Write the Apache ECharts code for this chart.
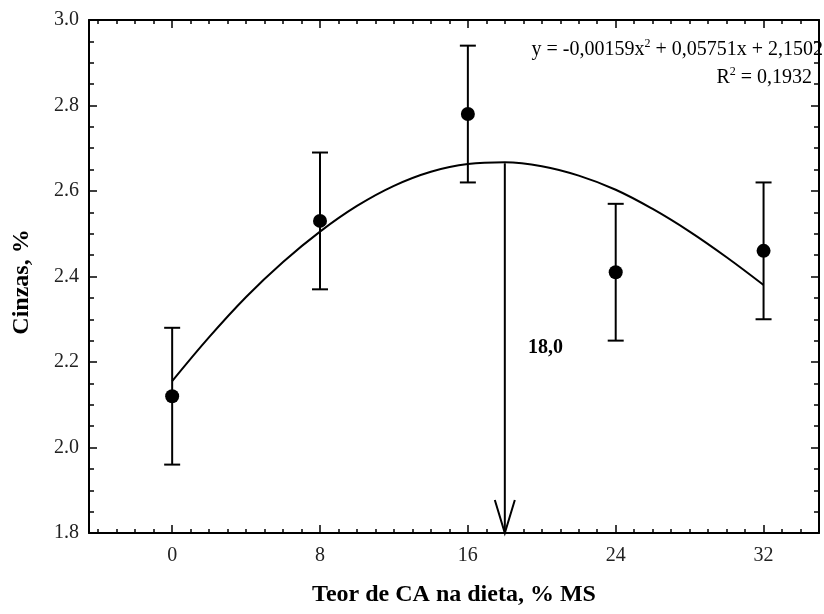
<!DOCTYPE html>
<html>
<head>
<meta charset="utf-8">
<script src="https://cdn.jsdelivr.net/npm/echarts@6/dist/echarts.min.js"></script>
<style>
  html, body { margin: 0; padding: 0; background: #fff; }
  #chart { width: 824px; height: 614px; }
</style>
</head>
<body>
<div id="chart"></div>
<script>
// data
const doses = [0, 8, 16, 24, 32]
const means = [2.12, 2.53, 2.78, 2.41, 2.46]
const errLow = [1.96, 2.37, 2.62, 2.25, 2.30]
const errHigh = [2.28, 2.69, 2.94, 2.57, 2.62]

// fitted curve
const curveX = [0, 2, 4, 6, 8, 10, 12, 14, 16, 18, 20, 22, 24, 26, 28, 30, 32]
const curveY = [2.155, 2.258, 2.352, 2.434, 2.505, 2.565, 2.612, 2.645, 2.663, 2.667, 2.658, 2.636, 2.603, 2.558, 2.505, 2.445, 2.38]

// optimum marker
const optimumX = 18
const optimumTop = 2.665
const optimumLabel = '18,0'
const optimumLabelPos = [20.2, 2.234]

const xMajorTicks = [0, 8, 16, 24, 32]
const xMinorTicks = [-4, -3, -2, -1, 0, 1, 2, 3, 4, 5, 6, 7, 8, 9, 10, 11, 12, 13, 14, 15, 16, 17,
  18, 19, 20, 21, 22, 23, 24, 25, 26, 27, 28, 29, 30, 31, 32, 33, 34]

const serif = '"Liberation Serif", "Times New Roman", serif'
const black = '#000'

const chart = echarts.init(document.getElementById('chart'))

const xBase = {
  type: 'value',
  min: -4.5,
  max: 35,
  splitLine: { show: false },
  axisLine: { show: true, onZero: false, lineStyle: { color: black, width: 2 } }
}
const yBase = {
  type: 'value',
  min: 1.8,
  max: 3.0,
  interval: 0.2,
  splitLine: { show: false },
  axisLine: { show: true, onZero: false, lineStyle: { color: black, width: 2 } },
  axisTick: { show: true, inside: true, length: 8, lineStyle: { color: black, width: 1.5 } },
  minorTick: { show: true, splitNumber: 4, length: 5, lineStyle: { color: black, width: 1.5 } }
}

chart.setOption({
  animation: false,
  grid: { left: 89, right: 5, top: 20, bottom: 81 },
  xAxis: [
    Object.assign({}, xBase, {
      position: 'bottom',
      axisTick: { show: true, inside: true, length: 8, customValues: xMajorTicks, lineStyle: { color: black, width: 1.5 } },
      axisLabel: { customValues: xMajorTicks, fontFamily: serif, fontSize: 20, color: '#222', margin: 13 },
      name: 'Teor de CA na dieta, % MS',
      nameLocation: 'middle',
      nameGap: 50,
      nameTextStyle: { fontFamily: serif, fontSize: 24, fontWeight: 'bold', color: black }
    }),
    Object.assign({}, xBase, {
      position: 'bottom',
      axisLine: { show: false },
      axisTick: { show: true, inside: true, length: 4, customValues: xMinorTicks, lineStyle: { color: black, width: 1.5 } },
      axisLabel: { show: false }
    }),
    Object.assign({}, xBase, {
      position: 'top',
      axisTick: { show: true, inside: true, length: 8, customValues: xMajorTicks, lineStyle: { color: black, width: 1.5 } },
      axisLabel: { show: false }
    }),
    Object.assign({}, xBase, {
      position: 'top',
      axisLine: { show: false },
      axisTick: { show: true, inside: true, length: 4, customValues: xMinorTicks, lineStyle: { color: black, width: 1.5 } },
      axisLabel: { show: false }
    })
  ],
  yAxis: [
    Object.assign({}, yBase, {
      position: 'left',
      axisLabel: {
        fontFamily: serif, fontSize: 20, color: '#222', margin: 10,
        formatter: v => v.toFixed(1)
      }
    }),
    Object.assign({}, yBase, {
      position: 'right',
      axisLabel: { show: false }
    })
  ],
  graphic: [
    {
      type: 'text',
      x: 22,
      y: 282,
      rotation: Math.PI / 2,
      style: {
        text: 'Cinzas, %',
        font: 'bold 24px ' + serif,
        fill: black,
        align: 'center',
        verticalAlign: 'middle'
      }
    },
    {
      type: 'text',
      x: 823,
      y: 50,
      style: {
        text: '{n|y = -0,00159x}{s|2}{n| + 0,05751x + 2,1502}',
        align: 'right',
        verticalAlign: 'middle',
        rich: {
          n: { fontFamily: serif, fontSize: 20, color: black, lineHeight: 24 },
          s: { fontFamily: serif, fontSize: 12, color: black, lineHeight: 24, verticalAlign: 'top', padding: [0, 0, 10, 0] }
        }
      }
    },
    {
      type: 'text',
      x: 812,
      y: 78,
      style: {
        text: '{n|R}{s|2}{n| = 0,1932}',
        align: 'right',
        verticalAlign: 'middle',
        rich: {
          n: { fontFamily: serif, fontSize: 20, color: black, lineHeight: 24 },
          s: { fontFamily: serif, fontSize: 12, color: black, lineHeight: 24, verticalAlign: 'top', padding: [0, 0, 10, 0] }
        }
      }
    }
  ],
  series: [
    {
      type: 'line',
      data: curveX.map((x, i) => [x, curveY[i]]),
      smooth: 0.4,
      symbol: 'none',
      lineStyle: { color: black, width: 2 },
      z: 3
    },
    {
      type: 'custom',
      data: doses.map((x, i) => [x, errLow[i], errHigh[i]]),
      renderItem: (params, api) => {
        const lo = api.coord([api.value(0), api.value(1)])
        const hi = api.coord([api.value(0), api.value(2)])
        const w = 8
        const style = { stroke: black, lineWidth: 2, fill: null }
        return {
          type: 'group',
          children: [
            { type: 'line', shape: { x1: lo[0], y1: lo[1], x2: hi[0], y2: hi[1] }, style },
            { type: 'line', shape: { x1: lo[0] - w, y1: lo[1], x2: lo[0] + w, y2: lo[1] }, style },
            { type: 'line', shape: { x1: hi[0] - w, y1: hi[1], x2: hi[0] + w, y2: hi[1] }, style }
          ]
        }
      },
      z: 4
    },
    {
      type: 'scatter',
      data: doses.map((x, i) => [x, means[i]]),
      symbol: 'circle',
      symbolSize: 14,
      itemStyle: { color: black, opacity: 1 },
      z: 5
    },
    {
      type: 'custom',
      data: [[optimumX, optimumTop, 1.8, optimumLabelPos[0], optimumLabelPos[1]]],
      renderItem: (params, api) => {
        const top = api.coord([api.value(0), api.value(1)])
        const bot = api.coord([api.value(0), api.value(2)])
        const lab = api.coord([api.value(3), api.value(4)])
        const style = { stroke: black, lineWidth: 2, fill: null }
        return {
          type: 'group',
          children: [
            { type: 'line', shape: { x1: top[0], y1: top[1], x2: bot[0], y2: bot[1] }, style },
            { type: 'polyline', shape: { points: [[bot[0] - 10, bot[1] - 33], [bot[0], bot[1]], [bot[0] + 10, bot[1] - 33]] }, style },
            {
              type: 'text', x: lab[0], y: lab[1],
              style: { text: optimumLabel, font: 'bold 20px ' + serif, fill: black, align: 'center', verticalAlign: 'middle' }
            }
          ]
        }
      },
      z: 6
    }
  ]
})
</script>
</body>
</html>
